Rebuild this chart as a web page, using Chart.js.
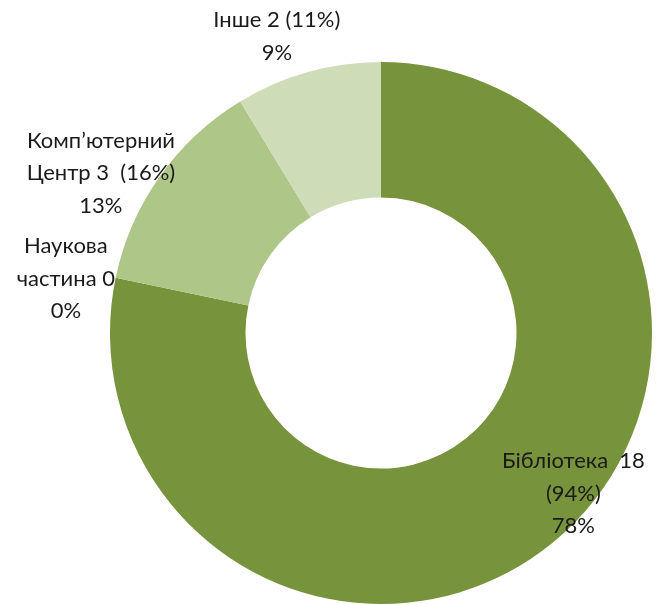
<!DOCTYPE html>
<html>
<head>
<meta charset="utf-8">
<script src="https://cdn.jsdelivr.net/npm/chart.js@4"></script>
<style>
  html, body { margin: 0; padding: 0; background: #fff; }
  #wrap { width: 657px; height: 604px; position: relative; }
</style>
</head>
<body>
<div id="wrap"><canvas id="grafico"></canvas></div>
<script>
// dados do gráfico
const categorias = ['Бібліотека', 'Наукова частина', 'Комп’ютерний Центр', 'Інше']
const valores = [18, 0, 3, 2]
const rotulos = [
  ['Бібліотека  18', '(94%)'],
  ['Наукова', 'частина 0'],
  ['Комп’ютерний', 'Центр 3  (16%)'],
  ['Інше 2 (11%)']
]
const cores = ['#77933C', '#4F6228', '#AEC687', '#CFDCB8']

// onde fica cada rótulo: desvio do ângulo (graus) e fator do raio externo
const posRotulos = [
  { dAng: -11, fr: 0.925 },
  { dAng: -2, fr: 1.18 },
  { dAng: -5.5, fr: 1.19 },
  { dAng: -3.7, fr: 1.16 }
]

const total = valores.reduce((a, b) => a + b, 0)

const rotulosPlugin = {
  id: 'rotulos',
  afterDatasetsDraw(chart) {
    const ctx = chart.ctx
    const meta = chart.getDatasetMeta(0)
    ctx.save()
    ctx.font = '22px Lato'
    ctx.fillStyle = '#1a1a1a'
    ctx.textAlign = 'center'
    ctx.textBaseline = 'middle'
    meta.data.forEach((arc, i) => {
      const p = arc.getProps(['x', 'y', 'startAngle', 'endAngle', 'outerRadius'], true)
      const meio = (p.startAngle + p.endAngle) / 2 + posRotulos[i].dAng * Math.PI / 180
      const r = p.outerRadius * posRotulos[i].fr
      const cx = p.x + Math.cos(meio) * r
      const cy = p.y + Math.sin(meio) * r
      const linhas = rotulos[i].concat([Math.round(valores[i] / total * 100) + '%'])
      const alt = 32.5
      const y0 = cy - (linhas.length - 1) * alt / 2
      linhas.forEach((t, k) => ctx.fillText(t, cx, y0 + k * alt))
    })
    ctx.restore()
  }
}

new Chart(document.getElementById('grafico'), {
  type: 'doughnut',
  data: {
    labels: categorias,
    datasets: [{
      data: valores,
      backgroundColor: cores,
      borderWidth: 0
    }]
  },
  options: {
    responsive: true,
    maintainAspectRatio: false,
    animation: false,
    cutout: '50%',
    layout: { padding: { left: 110, right: 5, top: 62, bottom: 0 } },
    plugins: {
      legend: { display: false },
      tooltip: { enabled: false }
    }
  },
  plugins: [rotulosPlugin]
})
</script>
</body>
</html>
